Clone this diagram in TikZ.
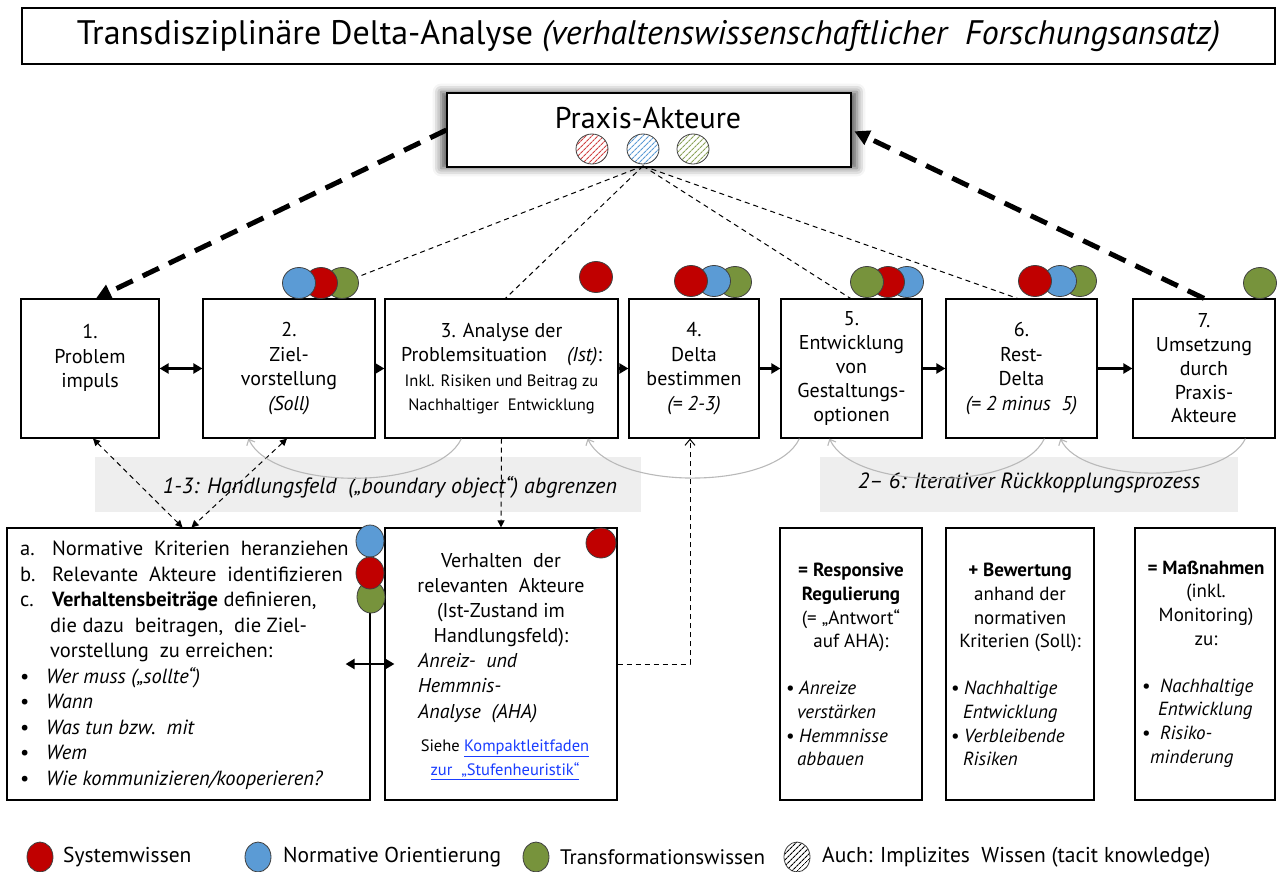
\documentclass[tikz,border=0pt]{standalone}
\usepackage{fontspec}
\setmainfont{PT Sans}
\usetikzlibrary{positioning,arrows.meta,shapes.geometric,patterns.meta,shadows.blur}
\definecolor{sysred}{HTML}{C00000}
\definecolor{normblue}{HTML}{5B9BD5}
\definecolor{transgreen}{HTML}{77933C}
\definecolor{linkblue}{HTML}{1A3DFF}

\begin{document}
\begin{tikzpicture}[x=1pt, y=-1pt,
  box/.style={draw, line width=1.2pt, fill=white, align=center, inner sep=0pt},
  txt/.style={font=\fontsize{20}{24.5}\selectfont, align=center, inner sep=0pt},
  small/.style={font=\fontsize{19}{23.7}\selectfont, align=center, inner sep=0pt},
  dot/.style={ellipse, draw=black!75, line width=0.8pt, minimum width=33pt, minimum height=31pt, inner sep=0pt},
  sys/.style={dot, fill=sysred},
  norm/.style={dot, fill=normblue},
  trans/.style={dot, fill=transgreen},
  hatch/.style={dot, minimum width=32pt, minimum height=30pt, preaction={fill=white},
    pattern={Lines[angle=45,distance=4pt,line width=1.1pt]}, pattern color=#1},
  arr/.style={-{Triangle[length=9pt,width=10pt]}, line width=2.2pt},
  both/.style={{Triangle[length=9pt,width=10pt]}-{Triangle[length=9pt,width=10pt]}, line width=2.2pt},
  bigdash/.style={-{Triangle[length=15pt,width=15pt]}, line width=5pt, dash pattern=on 18pt off 11pt},
  dline/.style={line width=1pt, dash pattern=on 5pt off 4pt},
  dtip/.style={dline, -{Triangle[length=7pt,width=7pt]}},
  dboth/.style={dline, {Triangle[length=7pt,width=7pt]}-{Triangle[length=7pt,width=7pt]}},
  loop/.style={-{Straight Barb[length=5pt,width=9pt]}, line width=1.1pt, gray!55, looseness=0.7},
  band/.style={fill=gray!13, inner sep=0pt}
]
\useasboundingbox (0,0) rectangle (1277,871);

% title
\node[draw, line width=1.2pt, minimum width=1253pt, minimum height=56pt, font=\fontsize{34}{38}\selectfont] (title) at (648.5,36)
  {Transdisziplinäre Delta-Analyse \textit{(verhaltenswissenschaftlicher\ \ Forschungsansatz)}};

% praxis
\node[box, minimum width=404pt, minimum height=74pt,
  blur shadow={shadow xshift=0pt, shadow yshift=0pt, shadow scale=1.03, shadow blur radius=8pt, shadow opacity=65}] (praxis) at (649,130) {};
\node[font=\fontsize{30}{33}\selectfont, inner sep=0pt] (praxislab) at (648,118) {Praxis-Akteure};
\node[hatch=sysred!75] (hr) at (592,149) {};
\node[hatch=normblue] (hb) at (643,149) {};
\node[hatch=transgreen!85] (hg) at (693,149) {};

% row of steps
\node[box, txt, minimum width=138pt, minimum height=139pt] (b1) at (90,368.5) {1.\\Problem\\impuls\\\mbox{}};
\node[box, txt, minimum width=172pt, minimum height=139pt] (b2) at (289,368.5) {2.\\Ziel-\\vorstellung\\\textit{(Soll)}};
\node[box, txt, minimum width=233pt, minimum height=139pt] (b3) at (501.5,368.5)
  {3. Analyse der\\Problemsituation\quad\textit{(Ist)}:\\{\fontsize{16.5}{24}\selectfont Inkl. Risiken und Beitrag zu}\\{\fontsize{16.5}{24}\selectfont Nachhaltiger\ \ Entwicklung}};
\node[box, txt, minimum width=130pt, minimum height=139pt] (b4) at (694,368.5) {4.\\Delta\\bestimmen\\\textit{(= 2-3)}};
\node[box, txt, minimum width=141pt, minimum height=139pt, font=\fontsize{20}{23.8}\selectfont] (b5) at (851.5,368.5) {5.\\Entwicklung\\von\\Gestaltungs-\\optionen};
\node[box, txt, minimum width=151pt, minimum height=139pt] (b6) at (1021.5,368.5) {6.\\Rest-\\Delta\\\textit{(= 2 minus\ \ 5)}};
\node[box, txt, minimum width=142pt, minimum height=139pt, font=\fontsize{20}{23.8}\selectfont] (b7) at (1204,368.5) {7.\\Umsetzung\\durch\\Praxis-\\Akteure};

% bands
\node[band, minimum width=546pt, minimum height=55pt] (band1) at (368,484) {};
\node[txt, font=\fontsize{22}{24}\selectfont\itshape] (band1lab) at (390,487) {1-3: Handlungsfeld\ \ („boundary object“) abgrenzen};
\node[band, minimum width=418pt, minimum height=55pt] (band2) at (1029,484) {};
\node[txt, font=\fontsize{22}{24}\selectfont\itshape] (band2lab) at (1029,483) {2– 6: Iterativer Rückkopplungsprozess};

% lower boxes
\node[box, minimum width=363pt, minimum height=272pt] (lbox) at (188.5,664) {};
\node[box, minimum width=232pt, minimum height=272pt] (vbox) at (501,664) {};
\node[box, minimum width=142pt, minimum height=272pt] (r1) at (851,664) {};
\node[box, minimum width=148pt, minimum height=272pt] (r2) at (1020,664) {};
\node[box, minimum width=140pt, minimum height=272pt] (r3) at (1205,664) {};

\node[anchor=north west, align=left, inner sep=0pt, font=\fontsize{20.5}{25.5}\selectfont] (ltxt) at (20,541)
  {\makebox[32pt][l]{a.}Normative\ \ Kriterien\ \ heranziehen\\
   \makebox[32pt][l]{b.}Relevante\ \ Akteure\ \ identifizieren\\
   \makebox[32pt][l]{c.}\textbf{Verhaltensbeiträge} definieren,\\
   \hspace*{30pt}die dazu\ \ beitragen,\ \ die Ziel-\\
   \hspace*{30pt}vorstellung\ \ zu erreichen:\\
   \makebox[26pt][l]{\textbullet}\textit{Wer muss („sollte“)}\\
   \makebox[26pt][l]{\textbullet}\textit{Wann}\\
   \makebox[26pt][l]{\textbullet}\textit{Was tun bzw.\ \ mit}\\
   \makebox[26pt][l]{\textbullet}\textit{Wem}\\
   \makebox[26pt][l]{\textbullet}\textit{Wie kommunizieren/kooperieren?}};

\node[txt, font=\fontsize{20}{25}\selectfont] (vtxt) at (501,600) {Verhalten\ \ der\\relevanten\ \ Akteure\\(Ist-Zustand im\\Handlungsfeld):};
\node[txt, anchor=west, align=left, font=\fontsize{20}{25.5}\selectfont\itshape] (vaha) at (418,688) {Anreiz-\ \ und\\Hemmnis-\\Analyse\ \ (AHA)};
\node[small, font=\fontsize{16.5}{24}\selectfont] (vlink) at (505,760)
  {Siehe \textcolor{linkblue}{\underline{Kompaktleitfaden}}\\\textcolor{linkblue}{\underline{zur\ \ „Stufenheuristik“}}};

\node[small] (r1head) at (851,607.5) {\textbf{= Responsive}\\\textbf{Regulierung}\\(= „Antwort“\\auf AHA):};
\node[small, anchor=west, align=left, font=\fontsize{19}{23.7}\selectfont\itshape] (r1list) at (786,723.5)
  {\makebox[13pt][l]{\upshape\textbullet}Anreize\\\hspace*{11pt}verstärken\\\makebox[13pt][l]{\upshape\textbullet}Hemmnisse\\\hspace*{11pt}abbauen};
\node[small] (r2head) at (1020,607.5) {\textbf{+ Bewertung}\\anhand der\\normativen\\Kriterien (Soll):};
\node[small, anchor=west, align=left, font=\fontsize{19}{23.7}\selectfont\itshape] (r2list) at (951,723.5)
  {\makebox[13pt][l]{\upshape\textbullet}Nachhaltige\\\hspace*{12pt}Entwicklung\\\makebox[13pt][l]{\upshape\textbullet}Verbleibende\\\hspace*{12pt}Risiken};
\node[small] (r3head) at (1206,603) {\textbf{= Maßnahmen}\\(inkl.\\Monitoring)\\zu:};
\node[small, anchor=west, align=left, font=\fontsize{19}{23.7}\selectfont\itshape] (r3list) at (1142,723)
  {\makebox[18pt][l]{\upshape\textbullet}Nachhaltige\\\hspace*{16pt}Entwicklung\\\makebox[18pt][l]{\upshape\textbullet}Risiko-\\\hspace*{8pt}minderung};

% dots above the steps
\node[trans] (d2g) at (342,283) {};
\node[sys] (d2r) at (321,283) {};
\node[norm] (d2b) at (299,283) {};
\node[sys] (d3r) at (596,277) {};
\node[trans] (d4g) at (735,282) {};
\node[norm] (d4b) at (714,281) {};
\node[sys] (d4r) at (691,281) {};
\node[norm] (d5b) at (907,282) {};
\node[sys] (d5r) at (888,282) {};
\node[trans] (d5g) at (867,282) {};
\node[trans] (d6g) at (1080,281) {};
\node[norm] (d6b) at (1060,281) {};
\node[sys] (d6r) at (1035,281) {};
\node[trans] (d7g) at (1260,283) {};
\node[norm, minimum width=28pt, minimum height=32pt] (lb) at (370,541) {};
\node[trans, minimum width=28pt, minimum height=32pt] (lg) at (371,597) {};
\node[sys, minimum width=28pt, minimum height=32pt] (lr) at (370,573) {};
\node[sys, minimum width=30pt, minimum height=30pt] (vr) at (601,543) {};

% connectors
\coordinate (fan) at (643,166);
\draw[bigdash] (praxis.west) -- ([xshift=6pt]b1.north);
\draw[bigdash, shorten >=3pt] (b7.north) -- (praxis.east);
\draw[dline] (fan) -- (d2g);
\draw[dline] (fan) -- ([xshift=4pt]b3.north);
\draw[dline] (fan) -- ([xshift=-1pt]b5.north);
\draw[dline] (fan) -- ([xshift=-4pt]b6.north);

\draw[both] (b1) -- (b2);
\draw[arr] (b2) -- (b3);
\draw[arr] (b3) -- (b4);
\draw[arr] (b4) -- (b5);
\draw[arr] (b5) -- (b6);
\draw[arr, line width=3pt] (b6) -- (b7);

\draw[dboth] ([xshift=3pt]b1.south) -- ([xshift=-6pt]lbox.north);
\draw[dboth] ([xshift=-2pt]b2.south) -- ([xshift=3pt]lbox.north);
\draw[dtip] (b3.south) -- (vbox.north);
\draw[dline, -{Straight Barb[length=6pt,width=10pt]}] (vbox.east) -| ([xshift=-4pt]b4.south);
\draw[both] ([xshift=-25pt]lbox.east) -- ([xshift=10pt]vbox.west);

% feedback loops
\draw[loop] ([xshift=77pt]b3.south west) to[out=-115,in=-65] ([xshift=46pt]b2.south west);
\draw[loop] ([xshift=19pt]b5.south west) to[out=-115,in=-65] ([xshift=-31pt]b3.south east);
\draw[loop] ([xshift=99pt]b6.south west) to[out=-115,in=-65] ([xshift=49pt]b5.south west);
\draw[loop] ([xshift=113pt]b7.south west) to[out=-115,in=-65] ([xshift=115pt]b6.south west);

% legend
\node[sys, minimum width=26pt, minimum height=30pt] (lsys) at (40,857) {};
\node[anchor=west, inner sep=0pt, font=\fontsize{21.5}{24}\selectfont] (lsyslab) at (63,857) {Systemwissen};
\node[norm, minimum width=26pt, minimum height=30pt] (lnorm) at (258,857) {};
\node[anchor=west, inner sep=0pt, font=\fontsize{21.5}{24}\selectfont] (lnormlab) at (283,857) {Normative Orientierung};
\node[trans, minimum width=26pt, minimum height=30pt] (ltrans) at (536,857) {};
\node[anchor=west, inner sep=0pt, font=\fontsize{21}{24}\selectfont] (ltranslab) at (560,857) {Transformationswissen};
\node[hatch=black, minimum width=26pt, minimum height=30pt] (limpl) at (797,857) {};
\node[anchor=west, inner sep=0pt, font=\fontsize{21.5}{24}\selectfont] (limpllab) at (822,857) {Auch: Implizites\ \ Wissen (tacit knowledge)};
\end{tikzpicture}
\end{document}
